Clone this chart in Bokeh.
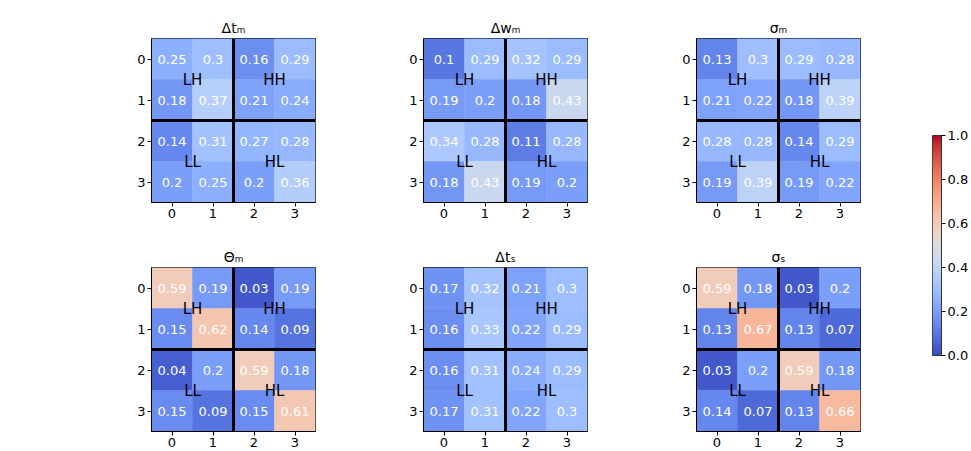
import numpy as np
from bokeh.plotting import figure
from bokeh.models import (ColumnDataSource, Range1d, Span, FixedTicker,
                          LinearColorMapper, PrintfTickFormatter)
from bokeh.transform import linear_cmap
from bokeh.layouts import row, column
from bokeh.core.properties import value
from bokeh.embed import file_html
from bokeh.resources import INLINE

# ---------------- data ----------------
rows_idx = [0, 1, 2, 3]
cols_idx = [0, 1, 2, 3]

titles = ["Δtₘ", "Δwₘ", "σₘ", "Θₘ", "Δtₛ", "σₛ"]

delta_t_m = [[0.25, 0.30, 0.16, 0.29],
             [0.18, 0.37, 0.21, 0.24],
             [0.14, 0.31, 0.27, 0.28],
             [0.20, 0.25, 0.20, 0.36]]
delta_w_m = [[0.10, 0.29, 0.32, 0.29],
             [0.19, 0.20, 0.18, 0.43],
             [0.34, 0.28, 0.11, 0.28],
             [0.18, 0.43, 0.19, 0.20]]
sigma_m = [[0.13, 0.30, 0.29, 0.28],
           [0.21, 0.22, 0.18, 0.39],
           [0.28, 0.28, 0.14, 0.29],
           [0.19, 0.39, 0.19, 0.22]]
theta_m = [[0.59, 0.19, 0.03, 0.19],
           [0.15, 0.62, 0.14, 0.09],
           [0.04, 0.20, 0.59, 0.18],
           [0.15, 0.09, 0.15, 0.61]]
delta_t_s = [[0.17, 0.32, 0.21, 0.30],
             [0.16, 0.33, 0.22, 0.29],
             [0.16, 0.31, 0.24, 0.29],
             [0.17, 0.31, 0.22, 0.30]]
sigma_s = [[0.59, 0.18, 0.03, 0.20],
           [0.13, 0.67, 0.13, 0.07],
           [0.03, 0.20, 0.59, 0.18],
           [0.14, 0.07, 0.13, 0.66]]

matrices = [delta_t_m, delta_w_m, sigma_m, theta_m, delta_t_s, sigma_s]

region_names = ["LH", "HH", "LL", "HL"]
region_col = [0.5, 2.5, 0.5, 2.5]
region_row = [0.5, 0.5, 2.5, 2.5]

cbar_ticks = [0.0, 0.2, 0.4, 0.6, 0.8, 1.0]

# ---------------- coolwarm palette (Moreland anchors) ----------------
_cw = [(59, 76, 192), (68, 90, 204), (77, 104, 215), (87, 117, 225), (98, 130, 234),
       (108, 142, 241), (119, 154, 247), (130, 165, 251), (141, 176, 254), (152, 185, 255),
       (163, 194, 255), (174, 201, 253), (184, 208, 249), (194, 213, 244), (204, 217, 238),
       (213, 219, 230), (221, 221, 221), (229, 216, 209), (236, 211, 197), (241, 204, 185),
       (245, 196, 173), (247, 187, 160), (247, 177, 148), (247, 166, 135), (244, 154, 123),
       (241, 141, 111), (236, 127, 99), (229, 112, 89), (222, 96, 77), (213, 80, 66),
       (203, 62, 56), (192, 40, 47), (180, 4, 38)]
_a = np.array(_cw, dtype=float)
_xp = np.linspace(0, 1, len(_cw))
_t = np.linspace(0, 1, 256)
coolwarm = ["#%02x%02x%02x" % tuple(int(round(np.interp(tt, _xp, _a[:, k]))) for k in range(3))
            for tt in _t]

FONT = "DejaVu Sans"
FRAME = 164


def make_panel(mat, title, left, right, top, bottom):
    xs, ys, vals, labels = [], [], [], []
    for r in rows_idx:
        for c in cols_idx:
            xs.append(c)
            ys.append(r)
            vals.append(mat[r][c])
            labels.append(str(round(mat[r][c], 2)))
    src = ColumnDataSource(dict(x=xs, y=ys, v=vals, label=labels))
    w = left + FRAME + right
    h = top + FRAME + bottom
    p = figure(width=w, height=h, output_backend="svg", toolbar_location=None,
               x_range=Range1d(-0.5, 3.5), y_range=Range1d(3.5, -0.5),
               min_border_left=left, min_border_right=right,
               min_border_top=top, min_border_bottom=bottom,
               title=title)
    cmap = linear_cmap("v", coolwarm, 0, 1)
    p.rect("x", "y", width=1, height=1, source=src, fill_color=cmap, line_color=cmap,
           line_width=0.5)
    p.text("x", "y", text="label", source=src, text_color="white",
           text_align="center", text_baseline="middle",
           text_font=value(FONT), text_font_size="13px")
    p.add_layout(Span(location=1.5, dimension="height", line_color="black", line_width=3))
    p.add_layout(Span(location=1.5, dimension="width", line_color="black", line_width=3))
    rsrc = ColumnDataSource(dict(x=region_col, y=region_row, t=region_names))
    p.text("x", "y", text="t", source=rsrc, text_color="black",
           text_align="center", text_baseline="middle",
           text_font=value(FONT), text_font_size="15px")
    p.title.align = "center"
    p.title.text_font = FONT
    p.title.text_font_style = "normal"
    p.title.text_font_size = "14px"
    p.title.text_color = "black"
    p.title.standoff = 5
    p.xgrid.visible = False
    p.ygrid.visible = False
    for ax in (p.xaxis[0], p.yaxis[0]):
        ax.ticker = FixedTicker(ticks=cols_idx)
        ax.minor_tick_line_color = None
        ax.major_tick_in = 0
        ax.major_tick_out = 4
        ax.major_label_standoff = 2
        ax.major_label_text_font = FONT
        ax.major_label_text_font_size = "13px"
        ax.major_label_text_color = "black"
        ax.axis_line_color = "black"
        ax.major_tick_line_color = "black"
    p.outline_line_color = "black"
    p.outline_line_width = 1
    p.background_fill_color = "white"
    p.border_fill_color = "white"
    return p


TOP_T, TOP_B = 38, 33
BOT_T, BOT_B = 32, 20
lefts = [151, 63, 64]
rights = [45, 45, 45]

figs = []
for i, (mat, ttl) in enumerate(zip(matrices, titles)):
    col = i % 3
    if i < 3:
        figs.append(make_panel(mat, ttl, lefts[col], rights[col], TOP_T, TOP_B))
    else:
        figs.append(make_panel(mat, ttl, lefts[col], rights[col], BOT_T, BOT_B))

# ---------------- colorbar ----------------
total_h = TOP_T + FRAME + TOP_B + BOT_T + FRAME + BOT_B
cb_top, cb_h = 135, 220
cb = figure(width=66, height=total_h, output_backend="svg", toolbar_location=None,
            x_range=Range1d(0, 1), y_range=Range1d(0, 1),
            min_border_left=27, min_border_right=28,
            min_border_top=cb_top, min_border_bottom=total_h - cb_top - cb_h,
            y_axis_location="right")
grad = np.linspace(0, 1, 256).reshape(256, 1)
mapper = LinearColorMapper(palette=coolwarm, low=0, high=1)
cb.image(image=[grad], x=0, y=0, dw=1, dh=1, color_mapper=mapper)
cb.xaxis.visible = False
cb.xgrid.visible = False
cb.ygrid.visible = False
ya = cb.yaxis[0]
ya.ticker = FixedTicker(ticks=cbar_ticks)
ya.formatter = PrintfTickFormatter(format="%.1f")
ya.minor_tick_line_color = None
ya.major_tick_in = 0
ya.major_tick_out = 4
ya.major_label_standoff = 2
ya.major_label_text_font = FONT
ya.major_label_text_font_size = "13px"
ya.major_label_text_color = "black"
ya.axis_line_color = "#333333"
cb.outline_line_color = "#333333"
cb.background_fill_color = "white"
cb.border_fill_color = "white"

layout = row(column(row(*figs[:3]), row(*figs[3:])), cb)

open("out.html", "w").write(file_html(layout, INLINE))
